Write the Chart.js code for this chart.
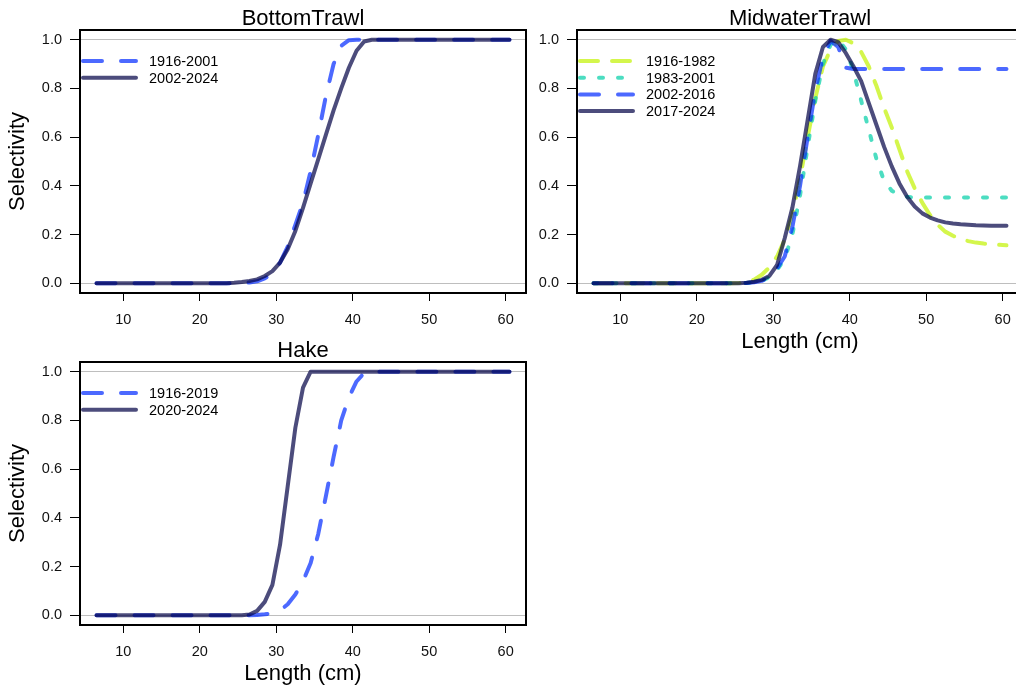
<!DOCTYPE html>
<html><head><meta charset="utf-8">
<script src="https://cdn.jsdelivr.net/npm/chart.js@4/dist/chart.umd.min.js"></script>
<style>
html,body{margin:0;padding:0;background:#fff;width:1016px;height:691px;overflow:hidden;position:relative;}
canvas{position:absolute;}
</style></head><body>
<canvas id="c1" width="540" height="359" style="left:0;top:0;width:540px;height:359px"></canvas>
<canvas id="c2" width="540" height="359" style="left:497px;top:0;width:540px;height:359px"></canvas>
<canvas id="c3" width="540" height="359" style="left:0;top:332px;width:540px;height:359px"></canvas>
<script>
// ---- data ----
const lengths = [6.5,7.5,8.5,9.5,10.5,11.5,12.5,13.5,14.5,15.5,16.5,17.5,18.5,19.5,20.5,21.5,22.5,23.5,24.5,25.5,26.5,27.5,28.5,29.5,30.5,31.5,32.5,33.5,34.5,35.5,36.5,37.5,38.5,39.5,40.5,41.5,42.5,43.5,44.5,45.5,46.5,47.5,48.5,49.5,50.5,51.5,52.5,53.5,54.5,55.5,56.5,57.5,58.5,59.5,60.5];
const xTicks = [10,20,30,40,50,60];
const yTicks = [0,0.2,0.4,0.6,0.8,1.0];

const bottomLabels = ['1916-2001','2002-2024'];
const bottom1916 = [0,0,0,0,0,0,0,0,0,0,0,0,0,0,0,0,0,0,0.0005,0.001,0.003,0.008,0.02,0.04,0.085,0.15,0.24,0.33,0.46,0.61,0.77,0.9,0.975,0.998,1,1,1,1,1,1,1,1,1,1,1,1,1,1,1,1,1,1,1,1,1];
const bottom2002 = [0,0,0,0,0,0,0,0,0,0,0,0,0,0,0,0,0,0,0.002,0.005,0.009,0.016,0.03,0.05,0.085,0.14,0.215,0.31,0.41,0.51,0.61,0.71,0.80,0.885,0.955,0.993,1,1,1,1,1,1,1,1,1,1,1,1,1,1,1,1,1,1,1];

const midLabels = ['1916-1982','1983-2001','2002-2016','2017-2024'];
const mid1916 = [0,0,0,0,0,0,0,0,0,0,0,0,0,0,0,0,0,0,0,0.001,0.004,0.015,0.035,0.065,0.11,0.18,0.28,0.43,0.6,0.76,0.89,0.96,0.995,1.0,0.985,0.95,0.89,0.81,0.72,0.64,0.55,0.46,0.39,0.33,0.28,0.24,0.212,0.195,0.182,0.173,0.167,0.163,0.16,0.158,0.156];
const mid1983 = [0,0,0,0,0,0,0,0,0,0,0,0,0,0,0,0,0,0,0,0,0.001,0.004,0.01,0.025,0.055,0.1,0.2,0.36,0.56,0.75,0.9,0.98,1.0,0.96,0.87,0.75,0.63,0.51,0.42,0.38,0.362,0.355,0.352,0.352,0.352,0.352,0.352,0.352,0.352,0.352,0.352,0.352,0.352,0.352,0.352];
const mid2002 = [0,0,0,0,0,0,0,0,0,0,0,0,0,0,0,0,0,0,0,0,0.001,0.004,0.01,0.025,0.06,0.11,0.23,0.4,0.6,0.79,0.93,0.995,0.97,0.885,0.88,0.88,0.88,0.88,0.88,0.88,0.88,0.88,0.88,0.88,0.88,0.88,0.88,0.88,0.88,0.88,0.88,0.88,0.88,0.88,0.88];
const mid2017 = [0,0,0,0,0,0,0,0,0,0,0,0,0,0,0,0,0,0,0,0,0.002,0.006,0.014,0.03,0.075,0.185,0.31,0.48,0.67,0.86,0.97,1.0,0.99,0.945,0.89,0.83,0.74,0.65,0.56,0.48,0.41,0.355,0.315,0.287,0.27,0.258,0.25,0.245,0.242,0.24,0.238,0.237,0.236,0.236,0.236];

const hakeLabels = ['1916-2019','2020-2024'];
const hake1916 = [0,0,0,0,0,0,0,0,0,0,0,0,0,0,0,0,0,0,0,0,0,0.001,0.004,0.008,0.02,0.045,0.085,0.14,0.215,0.335,0.49,0.65,0.8,0.895,0.96,0.995,1,1,1,1,1,1,1,1,1,1,1,1,1,1,1,1,1,1,1];
const hake2020 = [0,0,0,0,0,0,0,0,0,0,0,0,0,0,0,0,0,0,0,0,0.003,0.018,0.055,0.125,0.29,0.53,0.77,0.935,1,1,1,1,1,1,1,1,1,1,1,1,1,1,1,1,1,1,1,1,1,1,1,1,1,1,1];

// ---- styles ----
const FONT = '"Liberation Sans", Arial, Helvetica, sans-serif';
const STY = {
  longdash: {color:'rgba(194,242,0,0.7)', dash:[18,14]},
  dotted:   {color:'rgba(0,207,166,0.7)', dash:[4,15]},
  dashed:   {color:'rgba(0,42,255,0.7)',  dash:[19,19]},
  solid:    {color:'rgba(0,0,68,0.7)',    dash:[]}
};
const xMin = 4.34, xMax = 62.66, yMin = -0.04, yMax = 1.04;

const framePlugin = {
  id: 'frame',
  afterDatasetsDraw(chart, args, opts) {
    const ctx = chart.ctx, a = chart.chartArea;
    ctx.save();
    ctx.strokeStyle = '#000'; ctx.lineWidth = 2; ctx.setLineDash([]);
    ctx.strokeRect(a.left, a.top, a.right - a.left, a.bottom - a.top);
    ctx.fillStyle = '#000'; ctx.font = '22px ' + FONT;
    ctx.textAlign = 'center'; ctx.textBaseline = 'alphabetic';
    ctx.fillText(opts.title, (a.left + a.right) / 2, a.top - 5);
    ctx.beginPath(); ctx.rect(a.left, a.top, a.right - a.left, a.bottom - a.top); ctx.clip();
    chart.data.datasets.forEach((ds, i) => {
      const y = a.top + 31 + i * 16.7;
      ctx.strokeStyle = ds.borderColor; ctx.lineWidth = ds.borderWidth; ctx.lineCap = 'round';
      ctx.setLineDash(ds.borderDash || []);
      ctx.beginPath(); ctx.moveTo(a.left + 3, y); ctx.lineTo(a.left + 56, y); ctx.stroke();
      ctx.setLineDash([]);
      ctx.fillStyle = '#000'; ctx.font = '14.5px ' + FONT;
      ctx.textAlign = 'left'; ctx.textBaseline = 'middle';
      ctx.fillText(ds.label, a.left + 69, y + 1);
    });
    ctx.restore();
  }
};

function makePanel(id, title, labels, series, styles, showX) {
  const n = series.length;
  const datasets = series.map((vals, i) => ({
    label: labels[i],
    data: lengths.map((x, k) => ({x: x, y: vals[k]})),
    borderColor: STY[styles[i]].color,
    borderDash: STY[styles[i]].dash,
    borderWidth: 4,
    borderCapStyle: 'round',
    borderJoinStyle: 'round',
    pointRadius: 0,
    tension: 0,
    fill: false,
    order: n - i
  }));
  return new Chart(document.getElementById(id), {
    type: 'line',
    data: {datasets},
    options: {
      responsive: false, animation: false, devicePixelRatio: 1,
      layout: {padding: {top: 30, right: 14, left: 0, bottom: 0}},
      plugins: {legend: {display: false}, tooltip: {enabled: false}, frame: {title}},
      scales: {
        x: {
          type: 'linear', min: xMin, max: xMax,
          afterBuildTicks: s => { s.ticks = xTicks.map(v => ({value: v})); },
          afterFit: s => { s.height = 66; },
          grid: {drawOnChartArea: false, drawTicks: true, tickLength: 8, tickColor: '#000', tickWidth: 1},
          border: {display: false},
          ticks: {color: '#111', font: {family: FONT, size: 14.5}, padding: 10, maxRotation: 0, autoSkip: false, callback: v => String(v)},
          title: {display: showX, text: 'Length (cm)', color: '#000', font: {family: FONT, size: 22}, padding: {top: 0, bottom: 4}}
        },
        y: {
          type: 'linear', min: yMin, max: yMax,
          afterBuildTicks: s => { s.ticks = yTicks.map(v => ({value: v})); },
          afterFit: s => { s.width = 80; },
          grid: {
            drawOnChartArea: true, drawTicks: true, tickLength: 10, tickColor: '#000', tickWidth: 1, lineWidth: 1,
            color: c => (c.tick && (c.tick.value === 0 || c.tick.value === 1)) ? '#bebebe' : 'rgba(0,0,0,0)'
          },
          border: {display: false},
          ticks: {color: '#111', font: {family: FONT, size: 14.5}, padding: 8, callback: v => v.toFixed(1)},
          title: {display: id !== 'c2', text: 'Selectivity', color: '#000', font: {family: FONT, size: 22}, padding: {top: 5, bottom: 0}}
        }
      }
    },
    plugins: [framePlugin]
  });
}

makePanel('c1', 'BottomTrawl', bottomLabels, [bottom1916, bottom2002], ['dashed', 'solid'], false);
makePanel('c2', 'MidwaterTrawl', midLabels, [mid1916, mid1983, mid2002, mid2017], ['longdash', 'dotted', 'dashed', 'solid'], true);
makePanel('c3', 'Hake', hakeLabels, [hake1916, hake2020], ['dashed', 'solid'], true);
</script>
</body></html>
